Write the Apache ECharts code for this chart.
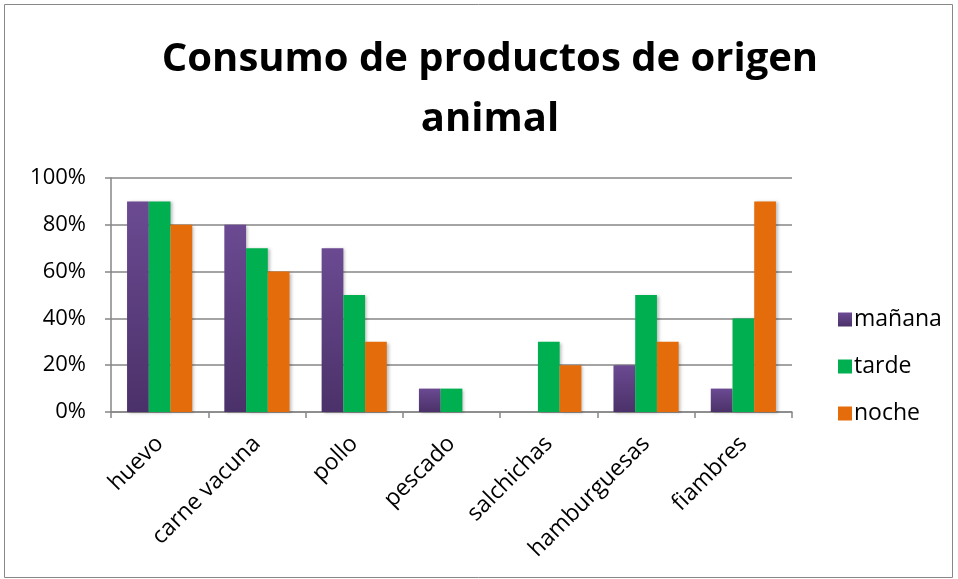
<!DOCTYPE html>
<html><head><meta charset="utf-8">
<script src="https://cdn.jsdelivr.net/npm/echarts@6/dist/echarts.min.js"></script>
<style>html,body{margin:0;padding:0;background:#fff}#c{width:958px;height:579px}</style>
</head><body><div id="c"></div>
<script>
const categories = ['huevo','carne vacuna','pollo','pescado','salchichas','hamburguesas','fiambres'];
const manana = [90, 80, 70, 10, 0, 20, 10];
const tarde = [90, 70, 50, 10, 30, 50, 40];
const noche = [80, 60, 30, 0, 20, 30, 90];
const seriesNames = ['mañana','tarde','noche'];
const yTicks = [0, 20, 40, 60, 80, 100];

const chart = echarts.init(document.getElementById('c'));
const font = 'Open Sans, Liberation Sans, sans-serif';
const purple = new echarts.graphic.LinearGradient(0,0,0,1,[{offset:0,color:'#6b4a92'},{offset:1,color:'#4b3169'}]);
const shadow = {shadowColor:'rgba(0,0,0,0.25)', shadowBlur:3, shadowOffsetX:2, shadowOffsetY:1};
chart.setOption({
  animation:false,
  title:{text:'Consumo de productos de origen\nanimal', left:485, textAlign:'center', top:25,
    textStyle:{fontFamily:font, fontWeight:'bold', fontSize:40, lineHeight:60, color:'#000'}},
  graphic:[{type:'rect', shape:{x:4.5,y:4.5,width:948,height:573}, style:{fill:'none', stroke:'#888', lineWidth:1}, silent:true}],
  grid:{left:111, right:166, top:178, bottom:167, containLabel:false},
  legend:{orient:'vertical', left:833, top:303, itemGap:24, itemWidth:14, itemHeight:14, icon:'rect',
    textStyle:{fontFamily:font, fontSize:23, color:'#000', padding:[0,0,0,-3]}, data:seriesNames},
  xAxis:{type:'category', data:categories,
    axisLine:{lineStyle:{color:'#868686', width:1.5}},
    axisTick:{show:true, length:6, lineStyle:{color:'#868686', width:1.5}},
    axisLabel:{rotate:45, fontFamily:font, fontSize:23, color:'#000', margin:28, interval:0}},
  yAxis:{type:'value', min:0, max:100, interval:20,
    axisLine:{show:true, lineStyle:{color:'#868686', width:1.5}},
    axisTick:{show:true, length:6, lineStyle:{color:'#868686', width:1.5}},
    splitLine:{lineStyle:{color:'#868686', width:1.5}},
    axisLabel:{formatter:v=>v+'%', fontFamily:font, fontSize:22, color:'#000', margin:25}},
  series:[
    {name:seriesNames[0], type:'bar', data:manana, barGap:'0%', barCategoryGap:'33%', itemStyle:Object.assign({color:purple},shadow)},
    {name:seriesNames[1], type:'bar', data:tarde, itemStyle:Object.assign({color:'#00b050'},shadow)},
    {name:seriesNames[2], type:'bar', data:noche, itemStyle:Object.assign({color:'#e46c0a'},shadow)}
  ]
});
</script></body></html>
